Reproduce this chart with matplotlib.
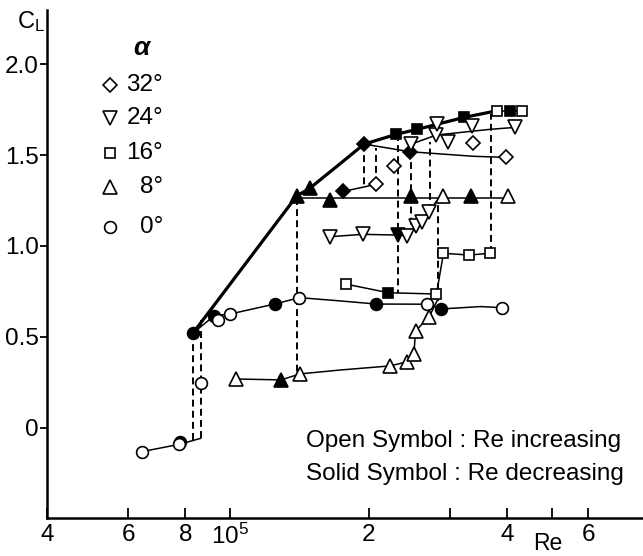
import numpy as np
import matplotlib
matplotlib.use("Agg")
import matplotlib.pyplot as plt
from matplotlib import font_manager

# ---- font -------------------------------------------------------------
_available = {f.name for f in font_manager.fontManager.ttflist}
FONT = "Liberation Sans" if "Liberation Sans" in _available else "DejaVu Sans"
plt.rcParams["font.family"] = [FONT, "DejaVu Sans"]
plt.rcParams["mathtext.fontset"] = "custom"
plt.rcParams["mathtext.rm"] = FONT
plt.rcParams["mathtext.it"] = FONT + ":italic"
plt.rcParams["mathtext.default"] = "regular"
plt.rcParams["lines.scale_dashes"] = False

# ---- data: lift coefficient vs Reynolds number ---------------------------
# alpha = 0 deg
a0_open_re = [6.44e4, 7.76e4, 8.64e4, 9.43e4, 1.00e5, 1.415e5, 2.68e5, 3.90e5]
a0_open_cl = [-0.13, -0.09, 0.246, 0.593, 0.626, 0.716, 0.68, 0.661]
a0_solid_re = [7.8e4, 8.3e4, 9.24e4, 1.25e5, 2.08e5, 2.88e5]
a0_solid_cl = [-0.08, 0.52, 0.617, 0.681, 0.681, 0.654]
a0_low_re = [6.44e4, 7.76e4, 8.64e4]
a0_low_cl = [-0.13, -0.09, -0.057]
a0_high_re = [8.3e4, 9.24e4, 1.00e5, 1.25e5, 1.415e5, 1.70e5, 2.08e5, 2.68e5, 2.88e5, 3.5e5, 3.9e5]
a0_high_cl = [0.52, 0.617, 0.626, 0.681, 0.716, 0.70, 0.681, 0.68, 0.654, 0.667, 0.661]

# alpha = 8 deg
a8_open_re = [1.029e5, 1.42e5, 2.23e5, 2.42e5, 2.51e5, 2.53e5, 2.71e5, 2.90e5, 4.01e5]
a8_open_cl = [0.269, 0.297, 0.341, 0.363, 0.407, 0.533, 0.612, 1.272, 1.272]
a8_solid_re = [1.29e5, 1.396e5, 1.49e5, 1.65e5, 2.47e5, 3.34e5]
a8_solid_cl = [0.264, 1.275, 1.317, 1.255, 1.272, 1.272]
a8_low_re = [1.029e5, 1.29e5, 1.42e5, 1.73e5, 2.23e5, 2.42e5, 2.51e5, 2.53e5, 2.71e5, 2.82e5]
a8_low_cl = [0.269, 0.264, 0.297, 0.318, 0.341, 0.363, 0.407, 0.533, 0.612, 0.70]
a8_high_re = [1.396e5, 2.90e5, 4.01e5]
a8_high_cl = [1.265, 1.265, 1.265]

# alpha = 16 deg
a16_open_re = [1.79e5, 2.81e5, 2.91e5, 3.31e5, 3.67e5, 3.80e5, 4.32e5]
a16_open_cl = [0.79, 0.736, 0.96, 0.95, 0.96, 1.743, 1.743]
a16_solid_re = [2.21e5, 2.30e5, 2.55e5, 3.23e5, 4.05e5]
a16_solid_cl = [0.743, 1.614, 1.641, 1.707, 1.743]
a16_low_re = [1.79e5, 2.21e5, 2.81e5, 2.91e5, 3.31e5, 3.67e5]
a16_low_cl = [0.79, 0.743, 0.736, 0.96, 0.95, 0.96]
a16_high_re = [3.80e5, 4.05e5, 4.32e5]
a16_high_cl = [1.743, 1.743, 1.743]

# alpha = 24 deg
a24_open_re = [1.65e5, 1.944e5, 2.42e5, 2.54e5, 2.62e5, 2.71e5,
               2.47e5, 2.81e5, 2.82e5, 2.98e5, 3.35e5, 4.17e5]
a24_open_cl = [1.051, 1.064, 1.057, 1.112, 1.134, 1.188,
               1.559, 1.61, 1.669, 1.57, 1.659, 1.652]
a24_solid_re = [2.32e5]
a24_solid_cl = [1.06]
a24_low_re = [1.65e5, 1.944e5, 2.32e5, 2.42e5, 2.54e5, 2.62e5, 2.71e5, 2.81e5]
a24_low_cl = [1.051, 1.064, 1.06, 1.057, 1.112, 1.134, 1.188, 1.247]
a24_high_re = [2.47e5, 2.81e5, 3.67e5, 4.17e5]
a24_high_cl = [1.559, 1.61, 1.641, 1.652]

# alpha = 32 deg
a32_open_re = [2.08e5, 2.27e5, 3.37e5, 3.98e5]
a32_open_cl = [1.339, 1.441, 1.564, 1.487]
a32_solid_re = [1.763e5, 1.956e5, 2.46e5]
a32_solid_cl = [1.30, 1.56, 1.518]
a32_low_re = [1.763e5, 2.08e5]
a32_low_cl = [1.30, 1.339]
a32_high_re = [1.956e5, 2.46e5, 3.38e5, 3.98e5]
a32_high_cl = [1.56, 1.518, 1.493, 1.487]

# maximum-lift envelope
env_re = [8.3e4, 1.396e5, 1.49e5, 1.75e5, 1.956e5, 2.30e5, 2.55e5, 3.23e5, 3.80e5]
env_cl = [0.52, 1.275, 1.317, 1.46, 1.56, 1.614, 1.641, 1.707, 1.743]

# hysteresis jumps (Re, CL from, CL to)
jump_re = [8.3e4, 8.64e4, 1.40e5, 1.956e5, 2.08e5, 2.32e5, 2.47e5, 2.72e5, 2.83e5, 3.70e5]
jump_cl_a = [0.52, -0.057, 1.265, 1.56, 1.339, 1.614, 1.52, 1.19, 0.70, 0.96]
jump_cl_b = [-0.065, 0.60, 0.30, 1.325, 1.54, 0.742, 1.06, 1.57, 1.265, 1.725]

# axis ticks
xtick_vals = [4e4, 6e4, 8e4, 1e5, 2e5, 3e5, 4e5, 5e5, 6e5]
xtick_text = ["4", "6", "8", r"$10^5$", "2", "", "4", "", "6"]
ytick_vals = [0.0, 0.5, 1.0, 1.5, 2.0]
ytick_text = ["0", "0.5", "1.0", "1.5", "2.0"]

legend_angles = ["32°", "24°", "16°", "8°", "0°"]
legend_markers = ["D", "v", "s", "^", "o"]

# ---- figure -------------------------------------------------------------
W, H = 643, 556
fig = plt.figure(figsize=(W / 100, H / 100), dpi=100)
ax = fig.add_axes([47 / W, 38 / H, (W - 47) / W, 508 / H])
ax.set_xscale("log")
ax.set_xlim(4e4, 7.9e5)
ax.set_ylim(-0.495, 2.297)

for s in ["top", "right"]:
    ax.spines[s].set_visible(False)
for s in ["left", "bottom"]:
    ax.spines[s].set_linewidth(1.8)

FS = 17.5
ax.set_xticks(xtick_vals)
ax.set_xticklabels(xtick_text)
ax.xaxis.set_minor_locator(matplotlib.ticker.NullLocator())
ax.set_yticks(ytick_vals)
ax.set_yticklabels(ytick_text)
ax.tick_params(axis="x", direction="in", length=7, width=1.3, labelsize=FS, pad=4)
ax.tick_params(axis="y", direction="out", length=5, width=1.3, labelsize=FS, pad=1)

THIN = 1.1
BOLD = 2.3
MS = {"o": 8.5, "^": 9.5, "v": 9.5, "s": 7.8, "D": 7.0}
MEW = 1.2

def curve(re, cl, lw=THIN):
    ax.plot(re, cl, color="black", lw=lw, zorder=2, solid_capstyle="round")

def pts(re, cl, marker, filled):
    ax.plot(re, cl, linestyle="none", marker=marker, ms=MS[marker],
            mfc="black" if filled else "white", mec="black", mew=MEW, zorder=4)

# dashed jump lines
for r, c1, c2 in zip(jump_re, jump_cl_a, jump_cl_b):
    ax.plot([r, r], [c1, c2], color="black", lw=1.4, dashes=(5, 3), zorder=1.5)

# envelope
curve(env_re, env_cl, lw=BOLD)

# branches
for re, cl in [(a0_low_re, a0_low_cl), (a0_high_re, a0_high_cl),
               (a8_low_re, a8_low_cl), (a8_high_re, a8_high_cl),
               (a16_low_re, a16_low_cl), (a16_high_re, a16_high_cl),
               (a24_low_re, a24_low_cl), (a24_high_re, a24_high_cl),
               (a32_low_re, a32_low_cl), (a32_high_re, a32_high_cl)]:
    curve(re, cl)

# symbols: solid (Re decreasing) underneath, open (Re increasing) on top
pts(a0_solid_re, a0_solid_cl, "o", True)
pts(a8_solid_re, a8_solid_cl, "^", True)
pts(a16_solid_re, a16_solid_cl, "s", True)
pts(a24_solid_re, a24_solid_cl, "v", True)
pts(a32_solid_re, a32_solid_cl, "D", True)
pts(a0_open_re, a0_open_cl, "o", False)
pts(a8_open_re, a8_open_cl, "^", False)
pts(a16_open_re, a16_open_cl, "s", False)
pts(a24_open_re, a24_open_cl, "v", False)
pts(a32_open_re, a32_open_cl, "D", False)

# ---- text ---------------------------------------------------------------
def px(x, y):
    return x / W, 1 - y / H

fig.text(*px(17, 22), r"C$_L$", fontsize=17, ha="left", va="center")
fig.text(*px(548, 544), "Re", fontsize=16.5, ha="center", va="center")

fig.text(*px(143, 48), r"$\alpha$", fontsize=19, ha="center", va="center",
         fontweight="bold", fontstyle="italic")
leg_y = [85, 118, 153, 187, 227]
for lab, mk, yy in zip(legend_angles, legend_markers, leg_y):
    fx, fy = px(110, yy)
    fig.add_artist(matplotlib.lines.Line2D([fx], [fy], transform=fig.transFigure,
                   linestyle="none", marker=mk, ms=MS[mk], mfc="white",
                   mec="black", mew=MEW))
    fig.text(*px(163, yy), lab, fontsize=FS, ha="right", va="center")

fig.text(*px(306, 441), "Open Symbol : Re increasing", fontsize=FS,
         ha="left", va="center")
fig.text(*px(306, 474), "Solid Symbol : Re decreasing", fontsize=FS,
         ha="left", va="center")

fig.savefig("out.png", dpi=100)
